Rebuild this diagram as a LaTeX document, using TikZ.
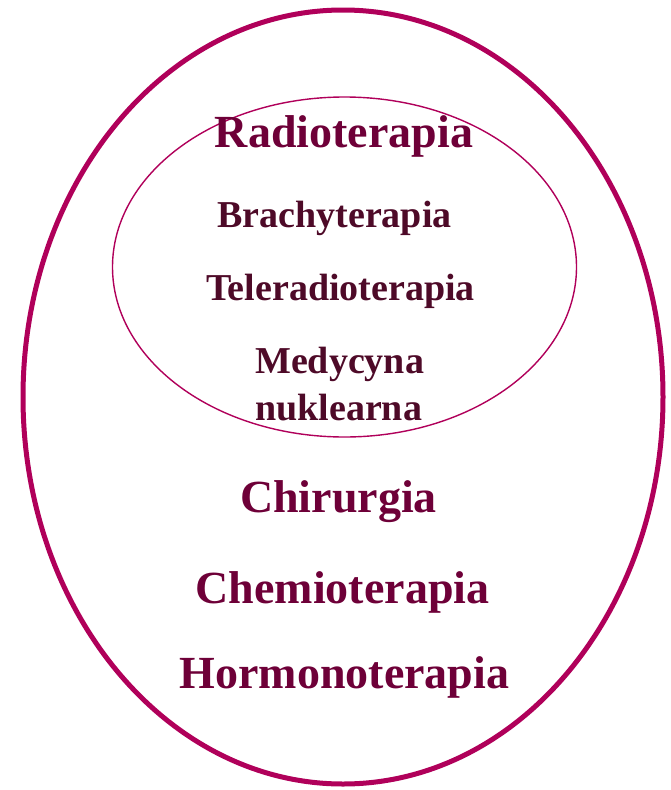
\documentclass[tikz,border=0pt]{standalone}
\usepackage{fontspec}
\setmainfont{Liberation Serif}
\usepackage{tikz}
\usepackage{xcolor}

\definecolor{ramka}{HTML}{B0005A}
\definecolor{napis}{HTML}{6E0038}
\definecolor{napisb}{HTML}{4E0A28}

\tikzset{
  duzy/.style={anchor=base, text=napis, inner sep=0pt, font=\fontsize{46}{50}\selectfont\bfseries},
  maly/.style={anchor=base, text=napisb, inner sep=0pt, font=\fontsize{38}{47}\selectfont\bfseries}
}

\begin{document}
\begin{tikzpicture}[x=1pt,y=-1pt]
    \useasboundingbox (0,0) rectangle (671,790);
    \draw[ramka,line width=5pt] (343,397) ellipse (320 and 387);
    \draw[ramka,line width=1.4pt] (344.5,267) ellipse (232 and 170);
    \node[duzy] (radio) at (344,147) {Radioterapia};
    \node[maly] (brachy) at (334.5,227) {Brachyterapia};
    \node[maly] (tele) at (340.5,300) {Teleradioterapia};
    \node[maly,anchor=base west] (medyc) at (255,373) {Medycyna};
    \node[maly,anchor=base west] (nukl) at (255,420) {nuklearna};
    \node[duzy] (chir) at (338.5,512) {Chirurgia};
    \node[duzy] (chemio) at (342.5,603) {Chemioterapia};
    \node[duzy] (hormono) at (344.5,688) {Hormonoterapia};
  \end{tikzpicture}
\end{document}
